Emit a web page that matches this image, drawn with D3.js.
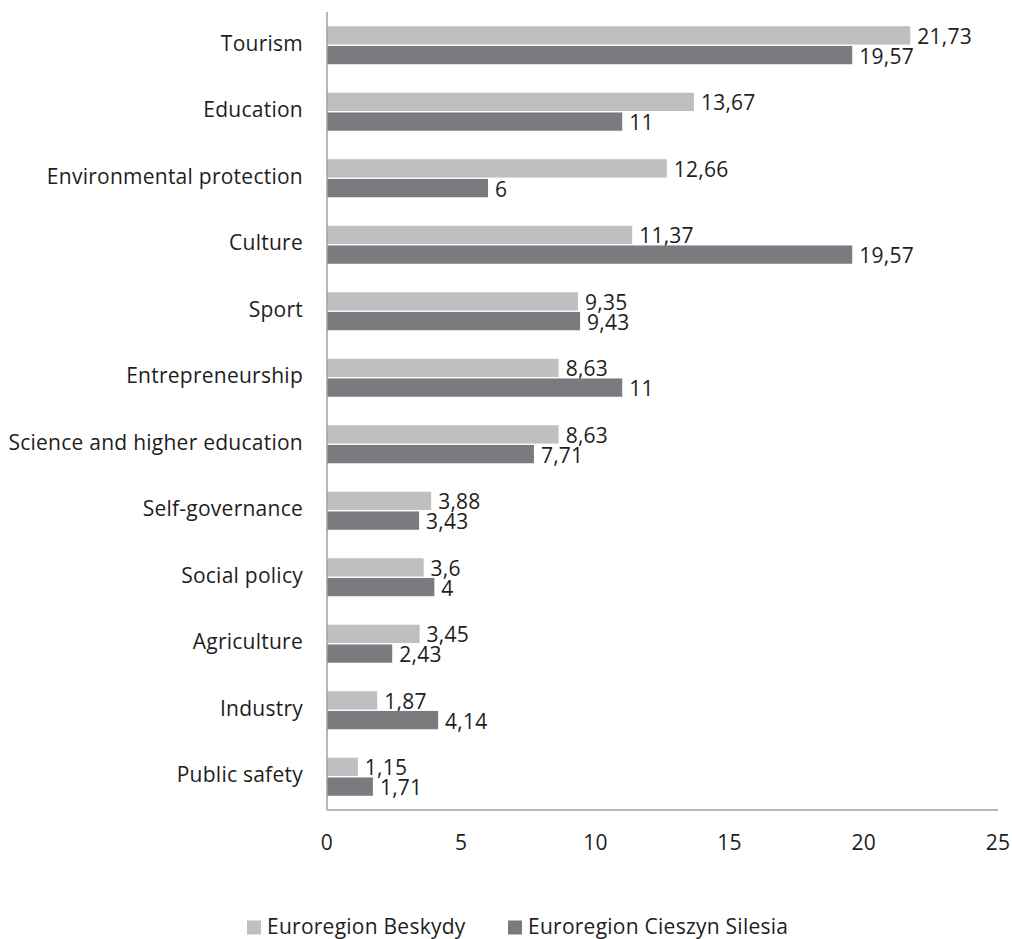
<!DOCTYPE html>
<html><head><meta charset="utf-8">
<script src="https://cdn.jsdelivr.net/npm/d3@7"></script>
<style>body{margin:0;background:#fff}text{font-family:"Open Sans",sans-serif;fill:#1e1e1e;letter-spacing:0.25px}</style>
</head><body><svg id="c" width="1012" height="939"></svg>
<script>
const categories=["Tourism","Education","Environmental protection","Culture","Sport","Entrepreneurship","Science and higher education","Self-governance","Social policy","Agriculture","Industry","Public safety"];
const beskydy=[21.73,13.67,12.66,11.37,9.35,8.63,8.63,3.88,3.6,3.45,1.87,1.15];
const cieszyn=[19.57,11,6,19.57,9.43,11,7.71,3.43,4,2.43,4.14,1.71];
const seriesNames=["Euroregion Beskydy","Euroregion Cieszyn Silesia"];
const xTicks=[0,5,10,15,20,25];
const colors=["#bfbfc1","#7b7b7f"];

const svg=d3.select("#c");
const x=d3.scaleLinear().domain([0,25]).range([327,998]);
const y=d3.scaleBand().domain(categories).range([12,810]);
const fmt=v=>String(v).replace(".",",");
const fs=21;
const c=d=>y(d)+y.bandwidth()/2;

// bars
const series=[beskydy,cieszyn];
series.forEach((vals,si)=>{
  const g=svg.append("g");
  const by=d=> si===0 ? c(d)-19 : c(d)+0.7;
  g.selectAll("rect").data(categories).join("rect")
    .attr("x",x(0)).attr("y",by)
    .attr("width",(d,i)=>x(vals[i])-x(0)).attr("height",18.3)
    .attr("fill",colors[si]);
  g.selectAll("text").data(categories).join("text")
    .attr("x",(d,i)=>x(vals[i])+7).attr("y",d=>by(d)+9.15+1.2)
    .attr("dy","0.35em").attr("font-size",fs)
    .text((d,i)=>fmt(vals[i]));
});

// category labels
svg.append("g").selectAll("text").data(categories).join("text")
  .attr("x",303).attr("y",d=>c(d)-1.8).attr("dy","0.35em")
  .attr("text-anchor","end").attr("font-size",fs).text(d=>d);

// axes lines
svg.append("line").attr("x1",327).attr("x2",327).attr("y1",12).attr("y2",810).attr("stroke","#a0a0a0").attr("stroke-width",1.5);
svg.append("line").attr("x1",327).attr("x2",998).attr("y1",810).attr("y2",810).attr("stroke","#a0a0a0").attr("stroke-width",1.5);

// x tick labels
svg.append("g").selectAll("text").data(xTicks).join("text")
  .attr("x",d=>x(d)).attr("y",842.6).attr("dy","0.35em").attr("text-anchor","middle")
  .attr("font-size",fs).text(d=>d);

// legend
const leg=[{x:247,t:seriesNames[0],c:colors[0]},{x:508,t:seriesNames[1],c:colors[1]}];
const lg=svg.append("g").selectAll("g").data(leg).join("g");
lg.append("rect").attr("x",d=>d.x).attr("y",920.5).attr("width",14).attr("height",14).attr("fill",d=>d.c);
lg.append("text").attr("x",d=>d.x+20).attr("y",927).attr("dy","0.35em").attr("font-size",fs).text(d=>d.t);
</script></body></html>
